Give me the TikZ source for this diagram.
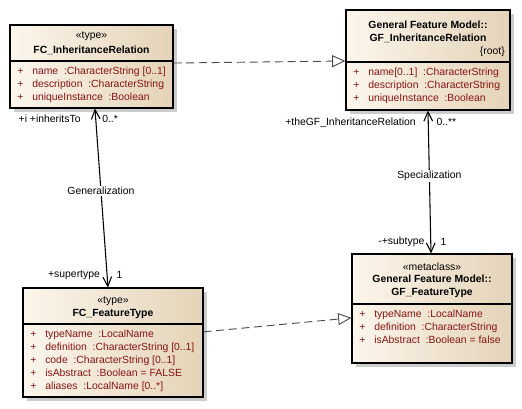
\documentclass[tikz,border=0pt]{standalone}
\usepackage{fontspec}
\setmainfont{Liberation Sans}
\usetikzlibrary{arrows.meta, positioning, fit, shadows}
\definecolor{boxleft}{RGB}{252,246,236}
\definecolor{boxright}{RGB}{228,211,184}
\definecolor{attrred}{RGB}{135,20,20}
\newcommand{\attr}[1]{\makebox[11.25pt][l]{+}#1}
\tikzset{
		class box/.style={
			rectangle,
			draw=black,
			line width=0.8pt,
			inner sep=0pt,
			left color=boxleft,
			right color=boxright,
			drop shadow={shadow xshift=3pt, shadow yshift=-3pt, fill=black!25, opacity=0.8}
		},
		uml text/.style={font=\fontsize{7.8}{9.75}\selectfont, inner sep=0pt},
		stereo/.style={uml text},
		class title/.style={uml text, font=\fontsize{7.8}{9.75}\selectfont\bfseries, align=center},
		attrs/.style={uml text, text=attrred, align=left, anchor=north west},
		realize/.style={
			draw=black!70,
			line width=0.7pt,
			dash pattern=on 6pt off 3.5pt,
			-{Triangle[open, length=10pt, width=9pt]}
		},
		assoc/.style={
			line width=0.8pt,
			{Straight Barb[length=7pt, width=6.5pt]}-{Straight Barb[length=7pt, width=6.5pt]}
		},
		end label/.style={uml text, inner sep=1pt},
		conn label/.style={uml text, fill=white, inner sep=1pt}
	}
\begin{document}
\begin{tikzpicture}[x=0.75pt, y=-0.75pt]
		\useasboundingbox (0,0) rectangle (522,408);
		% classes
		\node[class box, fit={(10,25) (173,108)}] (inh) {};
		\node[class box, fit={(346,10) (510,110)}] (gfinh) {};
		\node[class box, fit={(23,288) (203,397)}] (ft) {};
		\node[class box, fit={(352,254) (512,363)}] (gfft) {};
		% compartments
		\draw[line width=0.8pt] (10,61) -- (173,61);
		\draw[line width=0.8pt] (346,62) -- (510,62);
		\draw[line width=0.8pt] (23,324) -- (203,324);
		\draw[line width=0.8pt] (352,304) -- (512,304);
		% FC_InheritanceRelation
		\node[stereo] (inh-st) at (91.5,36) {«type»};
		\node[class title] (inh-nm) at (91.5,50) {FC\_InheritanceRelation};
		\node[attrs] (inh-at) at (17,67) {\attr{name\ \ :CharacterString [0..1]}\\
			\attr{description\ \ :CharacterString}\\
			\attr{uniqueInstance\ \ :Boolean}};
		% GF_InheritanceRelation
		\node[class title] (gfinh-nm) at (428,32) {General Feature Model::\\GF\_InheritanceRelation};
		\node[stereo, anchor=east] (gfinh-root) at (505,52) {\{root\}};
		\node[attrs] (gfinh-at) at (353,68) {\attr{name[0..1]\ \ :CharacterString}\\
			\attr{description\ \ :CharacterString}\\
			\attr{uniqueInstance\ \ :Boolean}};
		% FC_FeatureType
		\node[stereo] (ft-st) at (113,301) {«type»};
		\node[class title] (ft-nm) at (113,313.5) {FC\_FeatureType};
		\node[attrs] (ft-at) at (30,330) {\attr{typeName\ \ :LocalName}\\
			\attr{definition\ \ :CharacterString [0..1]}\\
			\attr{code\ \ :CharacterString [0..1]}\\
			\attr{isAbstract\ \ :Boolean = FALSE}\\
			\attr{aliases\ \ :LocalName [0..*]}};
		% GF_FeatureType
		\node[stereo] (gfft-st) at (432,267) {«metaclass»};
		\node[class title] (gfft-nm) at (432,286.5) {General Feature Model::\\GF\_FeatureType};
		\node[attrs] (gfft-at) at (359,310) {\attr{typeName\ \ :LocalName}\\
			\attr{definition\ \ :CharacterString}\\
			\attr{isAbstract\ \ :Boolean = false}};
		% realizations
		\draw[realize] ([yshift=2.6pt]inh.east) -- ([yshift=-0.75pt]gfinh.west);
		\draw[realize] ([yshift=8pt]ft.east) -- ([yshift=-7pt]gfft.west);
		% associations
		\draw[assoc] ([xshift=2.6pt]inh.south) -- ([xshift=-3.75pt]ft.north)
			node[conn label, pos=0.46] (gen) {Generalization}
			node[end label, pos=0.06, left=10pt] (gen-src) {+i +inheritsTo}
			node[end label, pos=0.06, right=3.5pt] (gen-srcm) {0..*}
			node[end label, pos=0.93, left=4pt] (gen-dst) {+supertype}
			node[end label, pos=0.93, right=5.7pt] (gen-dstm) {1};
		\draw[assoc] (gfinh.south) -- ([xshift=-0.75pt]gfft.north)
			node[conn label, pos=0.46] (spec) {Specialization}
			node[end label, pos=0.083, left=8pt] (spec-src) {+theGF\_InheritanceRelation}
			node[end label, pos=0.083, right=4.8pt] (spec-srcm) {0..**}
			node[end label, pos=0.92, left=3.4pt] (spec-dst) {-+subtype}
			node[end label, pos=0.92, right=6pt] (spec-dstm) {1};
\end{tikzpicture}
\end{document}
